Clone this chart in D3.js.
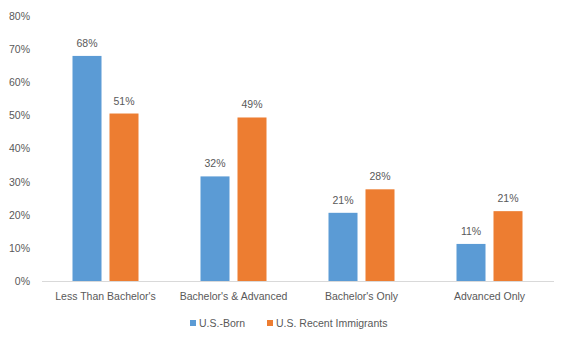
<!DOCTYPE html>
<html><head><meta charset="utf-8">
<script src="https://cdn.jsdelivr.net/npm/d3@7"></script>
<style>body{margin:0;background:#fff}svg{display:block}text{font-family:"Liberation Sans",Arial,sans-serif;fill:#595959}</style>
</head><body><svg id="c" width="563" height="338"></svg>
<script>
const categories = ["Less Than Bachelor's", "Bachelor's & Advanced", "Bachelor's Only", "Advanced Only"];
const seriesNames = ["U.S.-Born", "U.S. Recent Immigrants"];
const usBorn = [0.68, 0.316, 0.206, 0.112];
const recentImmigrants = [0.506, 0.494, 0.277, 0.211];
const yTicks = [0, 0.1, 0.2, 0.3, 0.4, 0.5, 0.6, 0.7, 0.8];
const colors = ["#5B9BD5", "#ED7D31"];
const FS = "10.5px";

const svg = d3.select("#c");
const x0 = d3.scaleBand().domain(categories).range([41.5, 553.5]).paddingInner(0).paddingOuter(0);
const x1 = d3.scaleBand().domain(seriesNames).range([31, 97]).paddingInner(0.216).paddingOuter(0);
const y = d3.scaleLinear().domain([0, 0.8]).range([281, 16.2]);
const fmt = d3.format(".0%");

// y tick labels
const yAxis = d3.axisLeft(y).tickValues(yTicks).tickFormat(fmt).tickSize(0).tickPadding(0);
const ya = svg.append("g").attr("transform", "translate(30,0)").call(yAxis);
ya.select(".domain").remove();
ya.selectAll("text").style("font-size", FS).attr("fill", "#595959").style("font-family", '"Liberation Sans",Arial,sans-serif');

// x axis
const xAxis = d3.axisBottom(x0).tickSize(0).tickPadding(12);
const xa = svg.append("g").attr("transform", "translate(0,281)").call(xAxis);
xa.select(".domain").attr("stroke", "#d9d9d9");
xa.selectAll("text").style("font-size", FS).attr("fill", "#595959").style("font-family", '"Liberation Sans",Arial,sans-serif');

const data = categories.map((c, i) => ({c, vals: [usBorn[i], recentImmigrants[i]]}));
const g = svg.append("g");
data.forEach(d => {
  d.vals.forEach((v, j) => {
    const xx = x0(d.c) + x1(seriesNames[j]);
    g.append("rect").attr("x", xx).attr("y", y(v)).attr("width", x1.bandwidth()).attr("height", y(0) - y(v)).attr("fill", colors[j]);
    g.append("text").attr("x", xx + x1.bandwidth() / 2).attr("y", y(v) - 9).attr("text-anchor", "middle").style("font-size", FS).text(fmt(v));
  });
});

// legend
const legendX = [190, 267];
seriesNames.forEach((s, j) => {
  svg.append("rect").attr("x", legendX[j]).attr("y", 320).attr("width", 6).attr("height", 6).attr("fill", colors[j]);
  svg.append("text").attr("x", legendX[j] + 9).attr("y", 327).style("font-size", FS).text(s);
});
</script></body></html>
